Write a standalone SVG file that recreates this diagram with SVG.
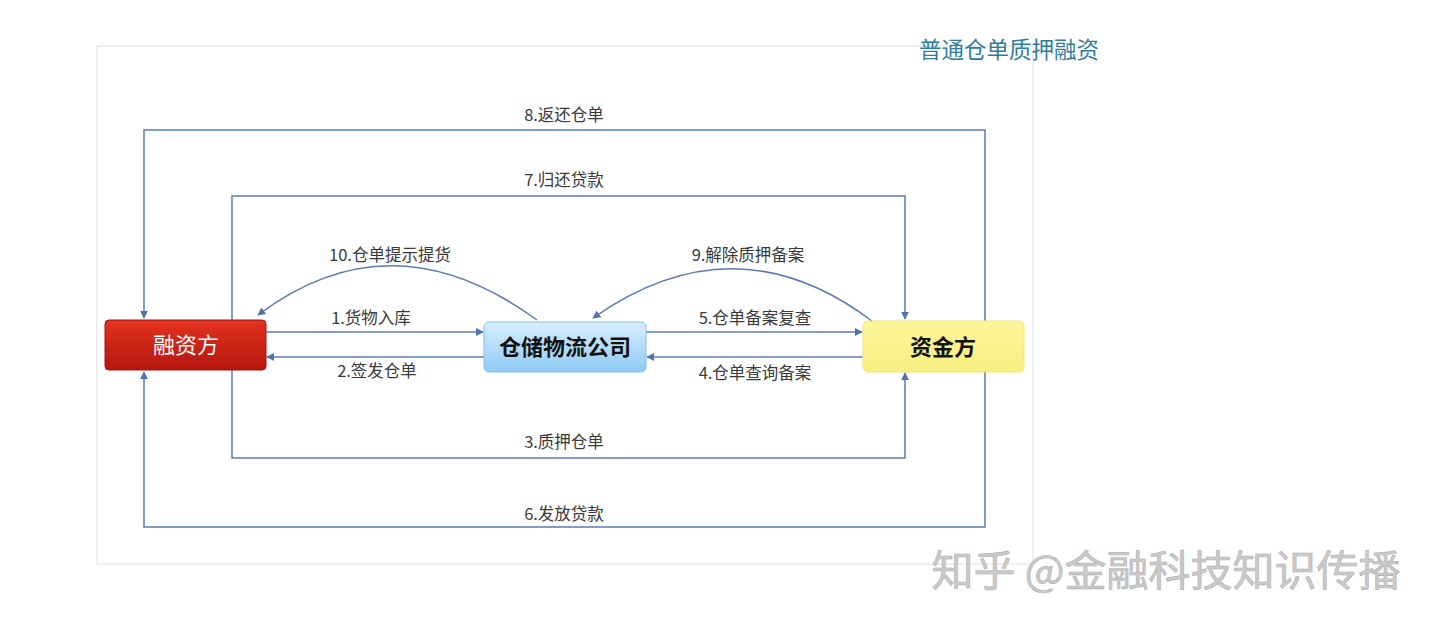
<svg xmlns="http://www.w3.org/2000/svg" width="1440" height="629" viewBox="0 0 1440 629">
<style>
.lbl{font-family:"Noto Sans CJK SC","Noto Sans",sans-serif;font-size:16.5px;fill:#3a3a3a;text-anchor:middle}
.conn{fill:none;stroke:#5b7bb5;stroke-width:1.5}
.node-t{font-family:"Noto Sans CJK SC","Noto Sans",sans-serif;font-size:22px;text-anchor:middle}
</style>
<defs>
<marker id="ah" viewBox="0 0 10 10" refX="9" refY="5" markerWidth="8" markerHeight="8" markerUnits="userSpaceOnUse" orient="auto">
<path d="M0,0 L10,5 L0,10 z" fill="#4f72b0"/>
</marker>
<linearGradient id="gRed" x1="0" y1="0" x2="0" y2="1">
<stop offset="0" stop-color="#e3321f"/><stop offset="1" stop-color="#b5170f"/>
</linearGradient>
<linearGradient id="gBlue" x1="0" y1="0" x2="0" y2="1">
<stop offset="0" stop-color="#d8eefd"/><stop offset="1" stop-color="#8fcaf4"/>
</linearGradient>
<linearGradient id="gYel" x1="0" y1="0" x2="0" y2="1">
<stop offset="0" stop-color="#fcf69a"/><stop offset="1" stop-color="#f8ef80"/>
</linearGradient>
</defs>
<rect width="1440" height="629" fill="#ffffff"/>
<rect x="97" y="46" width="936" height="518" fill="none" stroke="#dedede" stroke-width="1"/>
<text x="1009" y="58" font-family="Noto Sans CJK SC,Noto Sans,sans-serif" font-size="22.5" fill="#2f7c9c" text-anchor="middle">普通仓单质押融资</text>

<g id="connectors">
<polyline class="conn" points="985,321 985,130 144,130 144,318" marker-end="url(#ah)"/>
<polyline class="conn" points="232,320 232,196 905,196 905,319" marker-end="url(#ah)"/>
<polyline class="conn" points="232,370 232,458 905,458 905,373" marker-end="url(#ah)"/>
<polyline class="conn" points="985,371 985,527 144,527 144,372" marker-end="url(#ah)"/>
<line class="conn" x1="266" y1="332" x2="483" y2="332" marker-end="url(#ah)"/>
<line class="conn" x1="484" y1="357" x2="267" y2="357" marker-end="url(#ah)"/>
<line class="conn" x1="646" y1="332" x2="862" y2="332" marker-end="url(#ah)"/>
<line class="conn" x1="863" y1="357" x2="647" y2="357" marker-end="url(#ah)"/>
<path class="conn" d="M537,320 Q392,214 258,315" marker-end="url(#ah)"/>
<path class="conn" d="M872,321 Q735,218 593,318" marker-end="url(#ah)"/>
<text class="lbl" x="564" y="121">8.返还仓单</text>
<text class="lbl" x="564" y="186">7.归还贷款</text>
<text class="lbl" x="564" y="448">3.质押仓单</text>
<text class="lbl" x="564" y="520">6.发放贷款</text>
<text class="lbl" x="371" y="324">1.货物入库</text>
<text class="lbl" x="377" y="377">2.签发仓单</text>
<text class="lbl" x="755" y="324">5.仓单备案复查</text>
<text class="lbl" x="755" y="379">4.仓单查询备案</text>
<text class="lbl" x="390" y="261">10.仓单提示提货</text>
<text class="lbl" x="748" y="261">9.解除质押备案</text>
</g>

<g id="node-rongzi">
<rect x="105" y="320" width="161" height="50" rx="4" fill="url(#gRed)" stroke="#a3140e" stroke-width="1"/>
<text class="node-t" x="186" y="353" fill="#ffffff">融资方</text>
</g>
<g id="node-cangchu">
<rect x="484" y="322" width="162" height="50" rx="5" fill="url(#gBlue)" stroke="#86c0ee" stroke-width="1"/>
<text class="node-t" x="565" y="355" fill="#111111" font-weight="bold">仓储物流公司</text>
</g>
<g id="node-zijin">
<rect x="863" y="321" width="161" height="51" rx="5" fill="url(#gYel)" stroke="#f0e57a" stroke-width="1"/>
<text class="node-t" x="943" y="355" fill="#111111" font-weight="bold">资金方</text>
</g>

<text x="1166" y="586" font-family="Noto Sans CJK SC,Noto Sans,sans-serif" font-size="42" fill="#cacaca" stroke="#b0b0b0" stroke-width="0.6" text-anchor="middle">知乎 @金融科技知识传播</text>
</svg>
